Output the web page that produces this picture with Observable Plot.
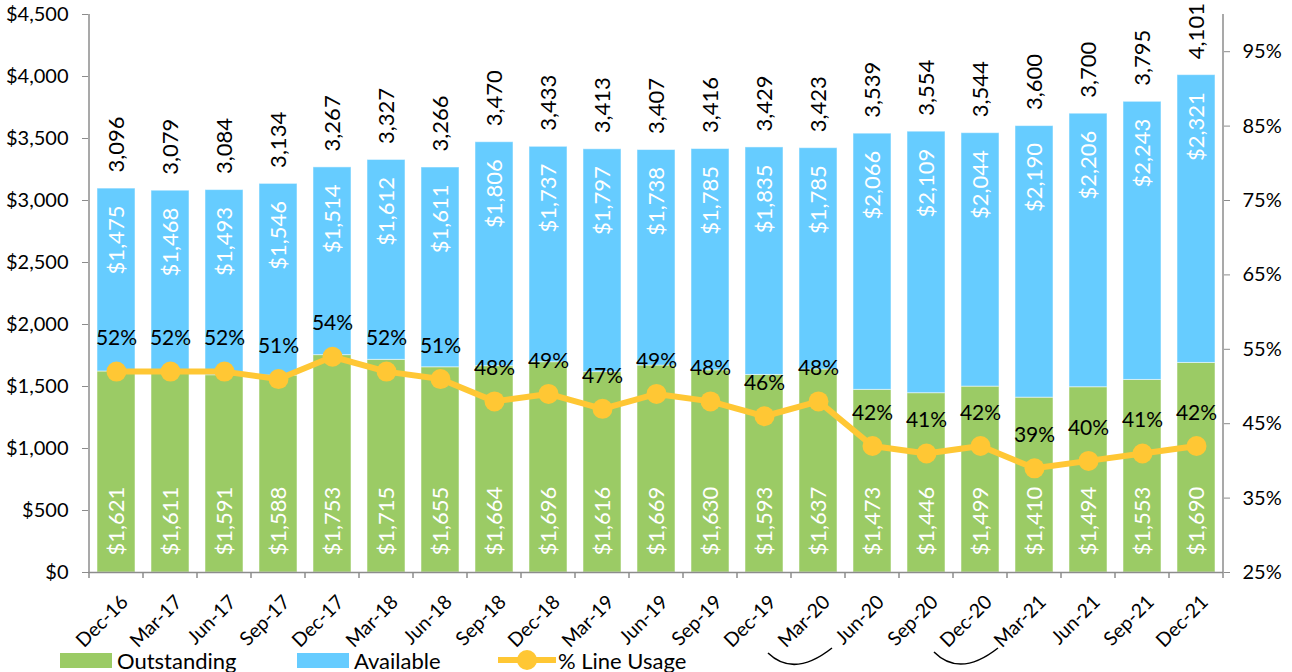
<!DOCTYPE html>
<html>
<head>
<meta charset="utf-8">
<script src="https://cdn.jsdelivr.net/npm/d3@7"></script>
<script src="https://cdn.jsdelivr.net/npm/@observablehq/plot@0.6"></script>
<style>
  html, body { margin: 0; padding: 0; background: #fff; }
  #wrap { position: relative; width: 1292px; height: 672px; overflow: hidden; font-family: Lato, "Open Sans", sans-serif; }
  #wrap svg { display: block; }
  .legend-item { position: absolute; top: 648px; height: 24px; display: flex; align-items: center; font-size: 22px; color: #000; white-space: nowrap; }
  .sw { width: 52px; height: 15px; margin-right: 5px; }
</style>
</head>
<body>
<div id="wrap"></div>
<script>
const categories = ["Dec-16","Mar-17","Jun-17","Sep-17","Dec-17","Mar-18","Jun-18","Sep-18","Dec-18","Mar-19","Jun-19","Sep-19","Dec-19","Mar-20","Jun-20","Sep-20","Dec-20","Mar-21","Jun-21","Sep-21","Dec-21"];
const outstanding = [1621,1611,1591,1588,1753,1715,1655,1664,1696,1616,1669,1630,1593,1637,1473,1446,1499,1410,1494,1553,1690];
const available = [1475,1468,1493,1546,1514,1612,1611,1806,1737,1797,1738,1785,1835,1785,2066,2109,2044,2190,2206,2243,2321];
const totalLabels = [3096,3079,3084,3134,3267,3327,3266,3470,3433,3413,3407,3416,3429,3423,3539,3554,3544,3600,3700,3795,4101];
const usagePct = [52,52,52,51,54,52,51,48,49,47,49,48,46,48,42,41,42,39,40,41,42];
const leftTicks = [0,500,1000,1500,2000,2500,3000,3500,4000,4500];
const rightTicks = [25,35,45,55,65,75,85,95];
const pctDomain = [25, 100];
const dollarDomain = [0, 4500];

const GREEN = "#9BCB65", BLUE = "#66CCFF", GOLD = "#FFC734", AXIS = "#8C8C8C";
const FONT = "Lato, 'Open Sans', sans-serif";

const pctToY = p => (p - pctDomain[0]) / (pctDomain[1] - pctDomain[0]) * (dollarDomain[1] - dollarDomain[0]) + dollarDomain[0];
const yToPct = v => (v - dollarDomain[0]) / (dollarDomain[1] - dollarDomain[0]) * (pctDomain[1] - pctDomain[0]) + pctDomain[0];

const rows = categories.map((c, i) => ({
  cat: c, o: outstanding[i], a: available[i], total: totalLabels[i], pct: usagePct[i]
}));
const fmtComma = d3.format(",");

const plot = Plot.plot({
  width: 1292,
  height: 672,
  marginLeft: 88,
  marginRight: 69,
  marginTop: 14,
  marginBottom: 100,
  style: { fontFamily: FONT, fontSize: "20px", color: "#000", background: "white", overflow: "visible" },
  x: { type: "band", domain: categories, paddingInner: 0.3, paddingOuter: 0.15, axis: null },
  y: { domain: dollarDomain, axis: null },
  marks: [
    Plot.barY(rows, { x: "cat", y1: 0, y2: "o", fill: GREEN, stroke: "#fff", strokeOpacity: 0.5, strokeWidth: 1 }),
    Plot.barY(rows, { x: "cat", y1: "o", y2: d => d.o + d.a, fill: BLUE, stroke: "#fff", strokeOpacity: 0.5, strokeWidth: 1 }),
    Plot.ruleY([0], { stroke: AXIS, strokeWidth: 1.5 }),
    Plot.axisY(leftTicks, { anchor: "left", tickSize: 6, tickPadding: 14, stroke: AXIS, fill: "#000", fontSize: 20, tickFormat: d => "$" + fmtComma(d), label: null }),
    Plot.axisY(rightTicks.map(pctToY), { anchor: "right", tickSize: 6, tickPadding: 13, stroke: AXIS, fill: "#000", fontSize: 20, tickFormat: v => Math.round(yToPct(v)) + "%", label: null }),
    // values inside bars
    Plot.text(rows, { x: "cat", y: 0, text: d => "$" + fmtComma(d.o), rotate: -90, textAnchor: "start", lineAnchor: "middle", dy: -17, fill: "white", fontSize: 22 }),
    Plot.text(rows, { x: "cat", y: d => d.o + d.a, text: d => "$" + fmtComma(d.a), rotate: -90, textAnchor: "end", lineAnchor: "middle", dy: 17, fill: "white", fontSize: 22 }),
    // totals above bars
    Plot.text(rows, { x: "cat", y: d => d.o + d.a, text: d => fmtComma(d.total), rotate: -90, textAnchor: "start", lineAnchor: "middle", dy: -16, fill: "#000", fontSize: 22 }),
    // usage line
    Plot.line(rows, { x: "cat", y: d => pctToY(d.pct), stroke: GOLD, strokeWidth: 6, curve: "linear" }),
    Plot.dot(rows, { x: "cat", y: d => pctToY(d.pct), r: 10, fill: GOLD, stroke: "none" }),
    Plot.text(rows, { x: "cat", y: d => pctToY(d.pct), text: d => d.pct + "%", dy: -33, lineAnchor: "middle", fill: "#000", fontSize: 21 }),
    // category labels
    Plot.text(categories, { x: d => d, frameAnchor: "bottom", text: d => d, rotate: -45, textAnchor: "end", lineAnchor: "top", dx: 3, dy: 21, fill: "#000", fontSize: 19.5 })
  ]
});

document.getElementById("wrap").appendChild(plot);

// axis lines and category boundary ticks from the scales
const xs = plot.scale("x");
const ys = plot.scale("y");
const svg = d3.select(plot);
const step = xs.step;
const left = xs.apply(categories[0]) - (step - xs.bandwidth) / 2;
const yBottom = ys.apply(0);
const yTop = ys.apply(dollarDomain[1]);
const g = svg.append("g").attr("stroke", AXIS).attr("stroke-width", 1.5);
const right = left + step * categories.length;
g.append("line").attr("x1", left).attr("x2", left).attr("y1", yTop).attr("y2", yBottom);
g.append("line").attr("x1", right).attr("x2", right).attr("y1", yTop).attr("y2", yBottom);
for (let i = 0; i <= categories.length; i++) {
  const xx = left + i * step;
  g.append("line").attr("x1", xx).attr("x2", xx).attr("y1", yBottom).attr("y2", yBottom + 6);
}

// two curved annotation marks below the axis labels
function arc(catA, offA, catB, offB, yA, yB, cxOff) {
  const x0 = xs.apply(catA) + xs.bandwidth / 2 + offA;
  const x1 = xs.apply(catB) + xs.bandwidth / 2 + offB;
  const cx = x0 + cxOff;
  svg.append("path")
    .attr("d", `M${x0},${yBottom + yA} Q${cx},${yBottom + 106} ${x1},${yBottom + yB}`)
    .attr("fill", "none").attr("stroke", "#000").attr("stroke-width", 1.5);
}
arc("Dec-19", 4, "Mar-20", 14, 81, 76, 26);
arc("Sep-20", 8, "Dec-20", 18, 80, 76, 26);

// legend
const wrap = document.getElementById("wrap");
const legend = [
  { label: "Outstanding", left: 60, kind: "box", color: GREEN },
  { label: "Available", left: 297, kind: "box", color: BLUE },
  { label: "% Line Usage", left: 498, kind: "line", color: GOLD }
];
legend.forEach(it => {
  const d = document.createElement("div");
  d.className = "legend-item";
  d.style.left = it.left + "px";
  if (it.kind === "box") {
    d.innerHTML = `<div class="sw" style="background:${it.color}"></div><span>${it.label}</span>`;
  } else {
    d.innerHTML = `<svg width="58" height="24" style="margin-right:2px"><line x1="1" x2="57" y1="12" y2="12" stroke="${it.color}" stroke-width="6" stroke-linecap="round"/><circle cx="29" cy="12" r="10" fill="${it.color}"/></svg><span>${it.label}</span>`;
  }
  wrap.appendChild(d);
});
</script>
</body>
</html>
